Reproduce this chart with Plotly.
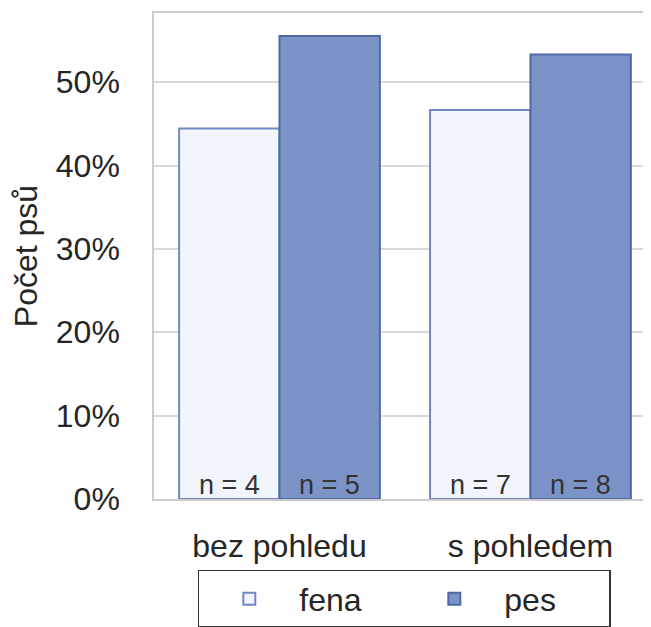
import plotly.graph_objects as go

categories = ["bez pohledu", "s pohledem"]
fena_counts = [4, 7]
pes_counts = [5, 8]
totals = [f + p for f, p in zip(fena_counts, pes_counts)]
fena_share = [f / t for f, t in zip(fena_counts, totals)]
pes_share = [p / t for p, t in zip(pes_counts, totals)]
y_ticks = [0, 0.1, 0.2, 0.3, 0.4, 0.5]
y_tick_labels = ["0%", "10%", "20%", "30%", "40%", "50%"]

FONT = "Liberation Sans, Arial, sans-serif"
TXT = "#262626"

fig = go.Figure()
fig.add_trace(go.Bar(
    name="fena", x=categories, y=fena_share,
    marker=dict(color="#f3f5fc", line=dict(color="#7089c0", width=2)),
))
fig.add_trace(go.Bar(
    name="pes", x=categories, y=pes_share,
    marker=dict(color="#7b93c6", line=dict(color="#4e69a5", width=2)),
))

# sample-size labels at the bar bases
for i, cat in enumerate(categories):
    for counts, shift in ((fena_counts, -50), (pes_counts, 50)):
        fig.add_annotation(
            x=cat, y=0, xref="x", yref="y", xshift=shift, yshift=14,
            yanchor="middle", showarrow=False, text=f"n = {counts[i]}",
            font=dict(size=27, color="#333333", family=FONT),
        )

fig.update_layout(
    width=660, height=619,
    margin=dict(l=146, r=0, t=5, b=128, autoexpand=False),
    paper_bgcolor="white", plot_bgcolor="white",
    barmode="group", bargap=0.2, bargroupgap=0,
    font=dict(family=FONT, size=32, color=TXT),
    showlegend=True,
    legend=dict(
        orientation="h", x=0.487, xanchor="center", y=-0.146, yanchor="top",
        bordercolor="#333333", borderwidth=1.5,
        font=dict(size=32, color=TXT),
        itemwidth=90, entrywidth=100,
    ),
)
fig.update_xaxes(
    range=[-0.5, 1.548],
    showline=True, linecolor="#cccccc", linewidth=1.5, mirror=True,
    showgrid=False, ticks="outside", ticklen=18, tickcolor="rgba(0,0,0,0)",
    tickfont=dict(size=32, color=TXT), automargin=False,
)
fig.update_yaxes(
    range=[0, 0.583],
    tickvals=y_ticks, ticktext=y_tick_labels,
    showgrid=True, gridcolor="#d9d9d9", gridwidth=1.5,
    showline=True, linecolor="#cccccc", linewidth=1.5,
    zeroline=False, ticks="", ticklabelstandoff=26,
    tickfont=dict(size=32, color=TXT), automargin=False,
    title=dict(text="Počet psů", font=dict(size=32, color=TXT), standoff=20),
)

fig.write_html("out.html")
